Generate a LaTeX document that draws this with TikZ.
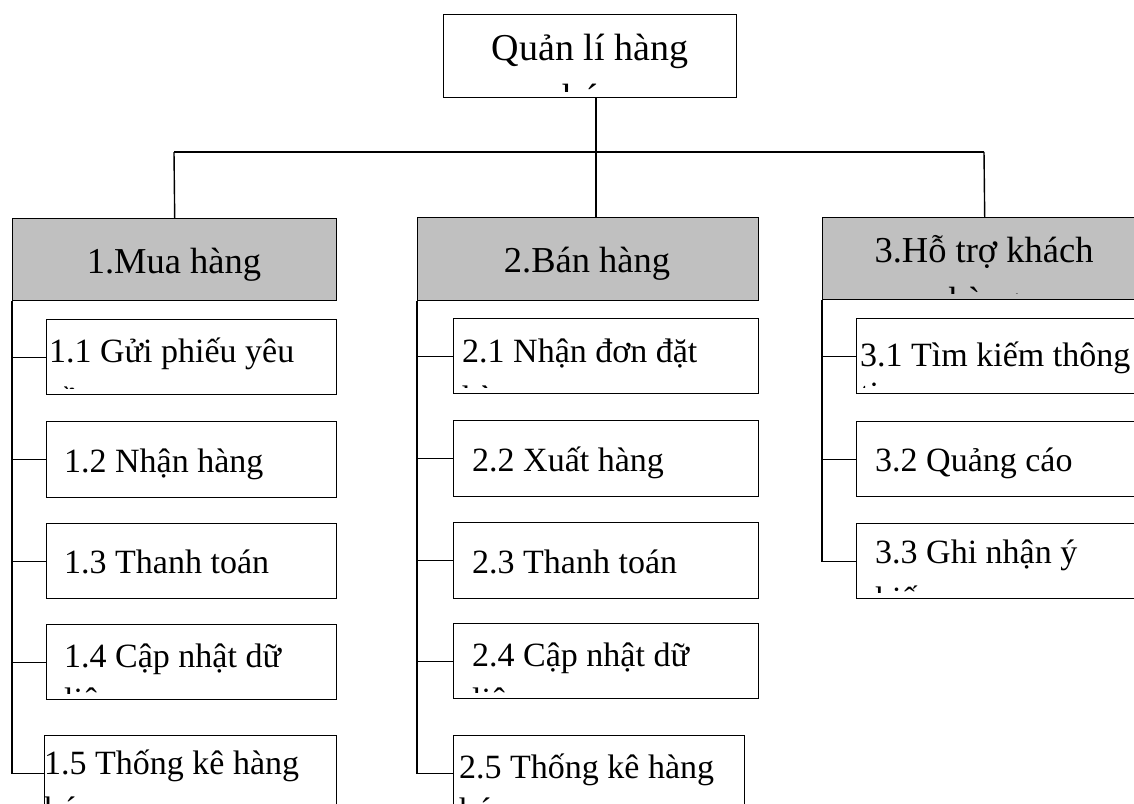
\documentclass[tikz,border=0pt]{standalone}
\usepackage{fontspec}
\setmainfont{Liberation Serif}
\definecolor{headgray}{HTML}{C0C0C0}
% text whose second line is cut off at the inner text area of its box
\newcommand\twolines[7]{%
  \begin{scope}
    \clip (#1.north west) rectangle ([yshift=7pt]#1.south east);
    \node[#6] (#1-l1) at (#2,#3) {#4};
    \node[#6] (#1-l2) at (#2,#3+#7) {#5};
  \end{scope}}
\begin{document}
\begin{tikzpicture}[x=1pt,y=-1pt,
  box/.style={draw, line width=1.4pt, inner sep=0, anchor=north west, fill=white},
  head/.style={box, fill=headgray},
  wire/.style={line width=1.4pt},
  subtxt/.style={inner sep=0, anchor=base west, font=\fontsize{34}{40}\selectfont},
  headtxt/.style={inner sep=0, anchor=base, font=\fontsize{36.5}{42}\selectfont},
  titletxt/.style={inner sep=0, anchor=base, font=\fontsize{38}{44}\selectfont},
]
\useasboundingbox (0,0) rectangle (1134,803);
\clip (0,0) rectangle (1134,803);

% root
\node[box, minimum width=293pt, minimum height=83pt] (title) at (443,14) {};

% main functions
\node[head, minimum width=324pt, minimum height=82pt] (h1) at (12,218) {};
\node[head, minimum width=341pt, minimum height=83pt] (h2) at (417,217) {};
\node[head, minimum width=324pt, minimum height=82pt] (h3) at (822,217) {};

% sub functions
\node[box, minimum width=290pt, minimum height=75pt] (s11) at (46,319) {};
\node[box, minimum width=290pt, minimum height=76pt] (s12) at (46,421) {};
\node[box, minimum width=290pt, minimum height=75pt] (s13) at (46,523) {};
\node[box, minimum width=290pt, minimum height=75pt] (s14) at (46,624) {};
\node[box, minimum width=292pt, minimum height=75pt] (s15) at (44,735) {};

\node[box, minimum width=305pt, minimum height=75pt] (s21) at (453,318) {};
\node[box, minimum width=305pt, minimum height=76pt] (s22) at (453,420) {};
\node[box, minimum width=305pt, minimum height=76pt] (s23) at (453,522) {};
\node[box, minimum width=305pt, minimum height=75pt] (s24) at (453,623) {};
\node[box, minimum width=291pt, minimum height=75pt] (s25) at (453,735) {};

\node[box, minimum width=324pt, minimum height=75pt] (s31) at (856,318) {};
\node[box, minimum width=324pt, minimum height=75pt] (s32) at (856,421) {};
\node[box, minimum width=324pt, minimum height=75pt] (s33) at (856,523) {};

% connectors
\coordinate (busL) at (174,152);
\coordinate (busM) at (596,152);
\coordinate (busR) at (984,152);
\draw[wire] (busL) -- (busR);
\draw[wire] (busL) -- (h1.north);
\draw[wire] (busR) -- (h3.north);
\draw[wire] (title.south -| busM) -- (h2.north -| busM);

\draw[wire] (h1.south west) |- (s15.west);
\foreach \s in {s11,s12,s13,s14} \draw[wire] (h1.south west |- \s.west) -- (\s.west);
\draw[wire] (h2.south west) |- (s25.west);
\foreach \s in {s21,s22,s23,s24} \draw[wire] (h2.south west |- \s.west) -- (\s.west);
\draw[wire] (h3.south west) |- (s33.west);
\foreach \s in {s31,s32} \draw[wire] (h3.south west |- \s.west) -- (\s.west);

% labels
\twolines{title}{590}{60}{Quản lí hàng}{hóa}{titletxt}{50}
\node[headtxt] (h1-l1) at (174,273) {1.Mua hàng};
\node[headtxt] (h2-l1) at (587,272) {2.Bán hàng};
\twolines{h3}{984}{262}{3.Hỗ trợ khách}{hàng}{headtxt}{50}

\twolines{s11}{49}{362}{1.1 Gửi phiếu yêu}{cầu}{subtxt}{49}
\node[subtxt] (s12-l1) at (64,472) {1.2 Nhận hàng};
\node[subtxt] (s13-l1) at (64,573) {1.3 Thanh toán};
\twolines{s14}{64}{667}{1.4 Cập nhật dữ}{liệu}{subtxt}{44}
\twolines{s15}{44}{774}{1.5 Thống kê hàng}{hóa}{subtxt}{46}

\twolines{s21}{462}{362}{2.1 Nhận đơn đặt}{hàng}{subtxt}{47}
\node[subtxt] (s22-l1) at (472,471) {2.2 Xuất hàng};
\node[subtxt] (s23-l1) at (472,573) {2.3 Thanh toán};
\twolines{s24}{472}{666}{2.4 Cập nhật dữ}{liệu}{subtxt}{45}
\twolines{s25}{459}{778}{2.5 Thống kê hàng}{hóa}{subtxt}{43}

\twolines{s31}{860}{366}{3.1 Tìm kiếm thông}{tin}{subtxt}{39}
\node[subtxt] (s32-l1) at (875,471) {3.2 Quảng cáo};
\twolines{s33}{875}{563}{3.3 Ghi nhận ý}{kiến}{subtxt}{47}
\end{tikzpicture}
\end{document}
